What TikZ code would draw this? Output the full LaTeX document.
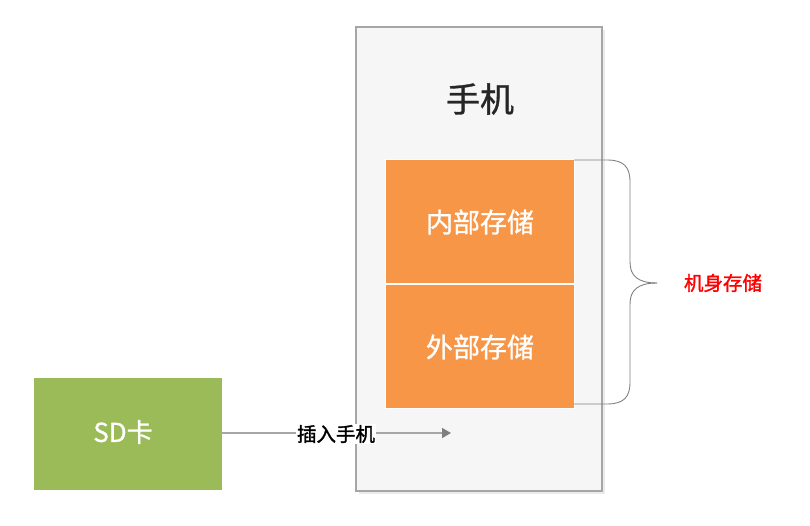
\documentclass[tikz,border=0pt]{standalone}
\usepackage{fontspec}
\setmainfont{Noto Sans CJK SC}
\newfontfamily\cjkmed[FakeBold=1.0]{Noto Sans CJK SC}
\newfontfamily\cjkbold[FakeBold=1.6]{Noto Sans CJK SC}
\usetikzlibrary{arrows.meta}
\definecolor{phonefill}{HTML}{F6F6F6}
\definecolor{phoneline}{HTML}{A6A6A6}
\definecolor{orangebox}{HTML}{F79646}
\definecolor{greenbox}{HTML}{9BBB59}
\definecolor{arrowgray}{HTML}{A6A6A6}
\definecolor{tipgray}{HTML}{7F7F7F}
\definecolor{bracegray}{HTML}{808080}
\definecolor{titletext}{HTML}{262626}
\tikzset{
  x=1pt, y=-1pt,
  storebox/.style={draw=white, line width=1pt, fill=orangebox},
  storetext/.style={text=white, font=\cjkmed\fontsize{27}{32}\selectfont},
  sdbox/.style={fill=greenbox},
  phonebox/.style={draw=phoneline, line width=1.3pt, fill=phonefill},
  conn/.style={draw=arrowgray, line width=1.5pt, -{Triangle[length=9pt,width=10pt,color=tipgray]}},
  bracestyle/.style={draw=bracegray, line width=0.9pt},
}
\begin{document}
\begin{tikzpicture}
\useasboundingbox (0,0) rectangle (810,526);
% shadow + phone
\fill[black!8] (359,30) rectangle (605,494);
\draw[phonebox] (356,27) rectangle (602,491);
\node[font=\cjkmed\fontsize{34}{40}\selectfont, text=titletext] (title) at (480,99) {手机};
% storage boxes
\path[storebox] (385,160) rectangle (574,284);
\path[storebox] (385,284) rectangle (574,408);
\node[storetext] (inner) at (480,222) {内部存储};
\node[storetext] (outer) at (480,347) {外部存储};
\coordinate (bt) at (574,160);
\coordinate (bb) at (574,404);
% SD card
\path[sdbox] (34,378) rectangle (222,490);
\node[text=white, font=\cjkmed\fontsize{26}{30}\selectfont] (sd) at (123,432) {SD卡};
\coordinate (sdr) at (222,433);
\coordinate (target) at (451,433);
\draw[conn] (sdr) -- (target);
\node[fill=white, inner sep=1pt, font=\cjkbold\fontsize{19.5}{23}\selectfont] (ins) at (336,434) {插入手机};
% brace
\coordinate (tip) at (657,283);
\draw[bracestyle] (bt) -- (607,160) .. controls (624,160) and (630,167) .. (630,182)
   -- (630,262) .. controls (630,276) and (638,283) .. (tip);
\draw[bracestyle] (tip) .. controls (638,283) and (630,290) .. (630,304)
   -- (630,382) .. controls (630,397) and (624,404) .. (607,404) -- (bb);
\node[text=red, font=\cjkbold\fontsize{19.5}{23}\selectfont] (body) at (723,283) {机身存储};
\end{tikzpicture}
\end{document}
